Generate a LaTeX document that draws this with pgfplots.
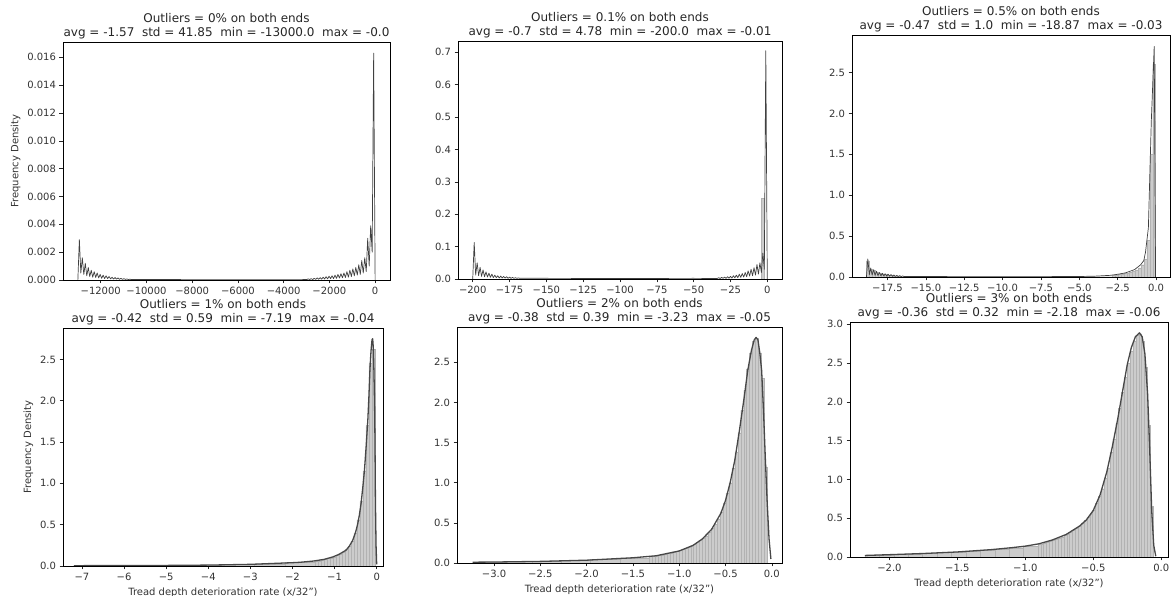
\documentclass[border=0pt]{standalone}
\usepackage{pgfplots}
\pgfplotsset{compat=1.18}
\usepackage{fontspec}
\setmainfont{DejaVu Sans}

\pgfplotsset{
  panel/.style={scale only axis, anchor=south west, ymin=0,
    xtick pos=left, ytick pos=left, tick align=outside,
    major tick length=3.5pt, tick style={black!85, line width=0.6pt},
    axis line style={line width=0.8pt, black},
    scaled ticks=false,
    tick label style={font=\fontsize{10}{11}\selectfont, text=black!80},
    label style={font=\fontsize{10}{12}\selectfont, text=black!80},
    title style={font=\fontsize{12}{13.5}\selectfont, align=center, inner sep=0pt,
      at={(0.5,1)}, anchor=south, yshift=-3pt, text=black!85},
  },
  hist/.style={ybar interval, fill=black!20, draw=black!30, line width=0.2pt},
  kde/.style={draw=black!72, line width=1.3pt, mark=none, line join=round},
  comb/.style={draw=black!75, line width=0.7pt, mark=none, line join=round},
}

\begin{document}
\begin{tikzpicture}
\useasboundingbox (0,0) rectangle (1175pt,596pt);

% ---------- Panel 1 ----------
\begin{axis}[panel, at={(63pt,316pt)}, width=327pt, height=238pt,
  xmin=-13650, xmax=650, ymax=0.0171,
  xtick={-12000,-10000,-8000,-6000,-4000,-2000,0},
  xticklabels={−12000,−10000,−8000,−6000,−4000,−2000,0},
  ytick={0,0.002,0.004,0.006,0.008,0.010,0.012,0.014,0.016},
  yticklabels={0.000,0.002,0.004,0.006,0.008,0.010,0.012,0.014,0.016},
  ylabel={Frequency Density},
  title={Outliers = 0\% on both ends\\avg = -1.57~~std = 41.85~~min = -13000.0~~max = -0.0}]
\addplot[comb] coordinates {
(-13000,0) (-12935,0.0029) (-12870,0.0005) (-12805,0.0016) (-12740,0.0004) (-12675,0.0012)
(-12610,0.0003) (-12545,0.0009) (-12480,0.00025) (-12415,0.0007) (-12350,0.0002) (-12285,0.0006)
(-12220,0.00018) (-12155,0.0005) (-12090,0.00015) (-12025,0.0004) (-11960,0.00012) (-11895,0.00035)
(-11830,0.0001) (-11765,0.0003) (-11700,0.0001) (-11635,0.00025) (-11570,0.00008) (-11505,0.0002)
(-11440,0.00007) (-11375,0.00018) (-11310,0.00006) (-11245,0.00015) (-11180,0.00005) (-11115,0.00012)
(-11050,0.00004) (-10985,0.0001) (-10920,0.00004) (-10855,0.00008) (-10790,0.00003) (-10725,0.00006)
(-10660,0.00003) (-9000,0.00003) (-6000,0.00002) (-4000,0.00002) (-3000,0.00003)
(-2990,0.00003) (-2925,0.00008) (-2860,0.00003) (-2795,0.0001) (-2730,0.00003) (-2665,0.00012)
(-2600,0.00004) (-2535,0.00015) (-2470,0.00005) (-2405,0.00017) (-2340,0.00006) (-2275,0.0002)
(-2210,0.00007) (-2145,0.00024) (-2080,0.00008) (-2015,0.00027) (-1950,0.0001) (-1885,0.0003)
(-1820,0.0001) (-1755,0.00035) (-1690,0.00012) (-1625,0.0004) (-1560,0.00014) (-1495,0.00045)
(-1430,0.00016) (-1365,0.0005) (-1300,0.00018) (-1235,0.0006) (-1170,0.0002) (-1105,0.0007)
(-1040,0.00025) (-975,0.0008) (-910,0.0003) (-845,0.0009) (-780,0.00035) (-715,0.0011)
(-650,0.0004) (-585,0.0014) (-520,0.0005) (-455,0.0016) (-390,0.0006) (-325,0.0030)
(-260,0.0010) (-195,0.0039) (-130,0.0020) (-65,0.0163) (0,0)
};
\end{axis}

% ---------- Panel 2 ----------
\begin{axis}[panel, at={(458pt,317pt)}, width=324pt, height=238pt,
  xmin=-210, xmax=10, ymax=0.735,
  xtick={-200,-175,-150,-125,-100,-75,-50,-25,0},
  xticklabels={−200,−175,−150,−125,−100,−75,−50,−25,0},
  ytick={0,0.1,0.2,0.3,0.4,0.5,0.6,0.7},
  yticklabels={0.0,0.1,0.2,0.3,0.4,0.5,0.6,0.7},
  title={Outliers = 0.1\% on both ends\\avg = -0.7~~std = 4.78~~min = -200.0~~max = -0.01}]
\addplot[hist] coordinates {(-4,0.25) (-2,0)};
\addplot[comb] coordinates {
(-200,0) (-199,0.113) (-198,0.012) (-197,0.05) (-196,0.01) (-195,0.036) (-194,0.008) (-193,0.028)
(-192,0.007) (-191,0.022) (-190,0.006) (-189,0.018) (-188,0.005) (-187,0.015) (-186,0.004) (-185,0.012)
(-184,0.004) (-183,0.01) (-182,0.003) (-181,0.009) (-180,0.003) (-179,0.008) (-178,0.003) (-177,0.007)
(-176,0.002) (-175,0.006) (-174,0.002) (-173,0.005) (-172,0.002) (-171,0.004) (-170,0.002) (-169,0.0035)
(-168,0.002) (-150,0.002) (-100,0.0015) (-50,0.002) (-34,0.0015)
(-33,0.004) (-32,0.0015) (-31,0.005) (-30,0.002) (-29,0.006) (-28,0.002) (-27,0.007) (-26,0.0025)
(-25,0.008) (-24,0.003) (-23,0.01) (-22,0.0035) (-21,0.012) (-20,0.004) (-19,0.015) (-18,0.005)
(-17,0.017) (-16,0.006) (-15,0.02) (-14,0.007) (-13,0.025) (-12,0.009) (-11,0.03) (-10,0.01)
(-9,0.035) (-8,0.012) (-7,0.045) (-6,0.015) (-5,0.05) (-4,0.02) (-3,0.08) (-2,0.03) (-1,0.705) (0,0)
};
\end{axis}

% ---------- Panel 3 ----------
\begin{axis}[panel, at={(852pt,319pt)}, width=318pt, height=242pt,
  xmin=-19.81, xmax=0.91, ymax=2.96,
  xtick={-17.5,-15,-12.5,-10,-7.5,-5,-2.5,0},
  xticklabels={−17.5,−15.0,−12.5,−10.0,−7.5,−5.0,−2.5,0.0},
  ytick={0,0.5,1,1.5,2,2.5},
  yticklabels={0.0,0.5,1.0,1.5,2.0,2.5},
  title={Outliers = 0.5\% on both ends\\avg = -0.47~~std = 1.0~~min = -18.87~~max = -0.03}]
\addplot[hist] coordinates {
(-18.87,0.2) (-18.682,0.1) (-18.493,0.08) (-18.305,0.06) (-18.116,0.05) (-17.928,0.04)
(-17.74,0.03) (-17.551,0.025) (-17.363,0.02) (-17.174,0.015) (-16.986,0.012) (-16.798,0.01)
(-16.609,0.004) (-2.856,0.025) (-2.668,0.028) (-2.479,0.032) (-2.291,0.037) (-2.102,0.043)
(-1.914,0.05) (-1.726,0.06) (-1.537,0.072) (-1.349,0.088) (-1.160,0.11) (-0.972,0.15)
(-0.784,0.22) (-0.595,0.45) (-0.407,1.5) (-0.218,2.6) (-0.03,0)
};
\addplot[comb] coordinates {
(-18.87,0) (-18.78,0.22) (-18.68,0.03) (-18.59,0.11) (-18.50,0.025) (-18.40,0.09) (-18.31,0.02)
(-18.21,0.07) (-18.12,0.018) (-18.02,0.055) (-17.93,0.015) (-17.83,0.045) (-17.74,0.012) (-17.65,0.04)
(-17.55,0.01) (-17.46,0.035) (-17.36,0.01) (-17.27,0.03) (-17.17,0.008) (-17.08,0.025) (-16.99,0.007)
(-16.89,0.02) (-16.80,0.006) (-16.70,0.017) (-16.61,0.005) (-16.51,0.014) (-16.42,0.005) (-16.0,0.006)
(-12,0.004) (-8,0.004) (-5,0.006) (-4,0.01) (-3.5,0.015) (-3.0,0.02) (-2.6,0.03) (-2.3,0.04)
(-2.0,0.05) (-1.7,0.07) (-1.4,0.09) (-1.2,0.12) (-1.0,0.15) (-0.8,0.2) (-0.69,0.3) (-0.5,0.6)
(-0.31,1.9) (-0.12,2.82) (-0.04,0.3) (-0.03,0)
};
\end{axis}

% ---------- Panel 4 ----------
\begin{axis}[panel, at={(63pt,30pt)}, width=320pt, height=238pt,
  xmin=-7.45, xmax=0.15, ymax=2.88,
  xtick={-7,-6,-5,-4,-3,-2,-1,0},
  xticklabels={−7,−6,−5,−4,−3,−2,−1,0},
  ytick={0,0.5,1,1.5,2,2.5},
  yticklabels={0.0,0.5,1.0,1.5,2.0,2.5},
  ylabel={Frequency Density},
  xlabel={Tread depth deterioration rate (x/32")},
  title={Outliers = 1\% on both ends\\avg = -0.42~~std = 0.59~~min = -7.19~~max = -0.04}]
\addplot[hist] coordinates {
(-7.19,0.005) (-6.475,0.006) (-5.76,0.007) (-5.045,0.009) (-4.33,0.012) (-3.615,0.018)
(-2.9,0.028) (-2.185,0.045) (-1.47,0.06) (-1.3985,0.065) (-1.327,0.07) (-1.2555,0.08)
(-1.184,0.09) (-1.1125,0.1) (-1.041,0.11) (-0.9695,0.13) (-0.898,0.15) (-0.8265,0.17)
(-0.755,0.2) (-0.6835,0.24) (-0.612,0.3) (-0.5405,0.4) (-0.469,0.56) (-0.3975,0.78)
(-0.326,1.15) (-0.2545,1.7) (-0.183,2.45) (-0.1115,2.62) (-0.04,0)
};
\addplot[kde] coordinates {
(-7.19,0.004) (-6,0.005) (-5,0.007) (-4,0.011) (-3,0.02) (-2.5,0.03) (-2,0.04) (-1.82,0.045)
(-1.5,0.06) (-1.25,0.08) (-1.04,0.11) (-0.9,0.14) (-0.73,0.19) (-0.65,0.24) (-0.57,0.31)
(-0.5,0.41) (-0.45,0.51) (-0.41,0.62) (-0.37,0.76) (-0.33,0.95) (-0.29,1.16) (-0.25,1.45)
(-0.21,1.77) (-0.185,2.05) (-0.16,2.38) (-0.135,2.6) (-0.11,2.74) (-0.095,2.75) (-0.08,2.64)
(-0.065,2.35) (-0.05,1.95) (-0.04,1.5) (-0.03,0.8) (-0.015,0.25) (0,0.02)
};
\end{axis}

% ---------- Panel 5 ----------
\begin{axis}[panel, at={(457pt,33pt)}, width=325pt, height=236pt,
  xmin=-3.40, xmax=0.11, ymax=2.94,
  xtick={-3,-2.5,-2,-1.5,-1,-0.5,0},
  xticklabels={−3.0,−2.5,−2.0,−1.5,−1.0,−0.5,0.0},
  ytick={0,0.5,1,1.5,2,2.5},
  yticklabels={0.0,0.5,1.0,1.5,2.0,2.5},
  xlabel={Tread depth deterioration rate (x/32")},
  title={Outliers = 2\% on both ends\\avg = -0.38~~std = 0.39~~min = -3.23~~max = -0.05}]
\addplot[hist] coordinates {
(-3.23,0.012) (-2.912,0.018) (-2.594,0.024) (-2.276,0.032) (-1.958,0.045) (-1.640,0.065)
(-1.322,0.082) (-1.2902,0.087) (-1.2584,0.092) (-1.2266,0.098) (-1.1948,0.104) (-1.163,0.11)
(-1.1312,0.118) (-1.0994,0.125) (-1.0676,0.135) (-1.0358,0.145) (-1.004,0.155) (-0.9722,0.17)
(-0.9404,0.185) (-0.9086,0.2) (-0.8768,0.215) (-0.845,0.235) (-0.8132,0.255) (-0.7814,0.28)
(-0.7496,0.31) (-0.7178,0.34) (-0.686,0.38) (-0.6542,0.43) (-0.6224,0.48) (-0.5906,0.55)
(-0.5588,0.64) (-0.527,0.75) (-0.4952,0.87) (-0.4634,1.0) (-0.4316,1.18) (-0.3998,1.38)
(-0.368,1.62) (-0.3362,1.9) (-0.3044,2.15) (-0.2726,2.42) (-0.2408,2.62) (-0.209,2.76)
(-0.1772,2.8) (-0.1454,2.62) (-0.1136,2.3) (-0.0818,1.2) (-0.05,0)
};
\addplot[kde] coordinates {
(-3.23,0.01) (-3.0,0.012) (-2.5,0.02) (-2.0,0.035) (-1.5,0.065) (-1.25,0.09) (-1.0,0.15)
(-0.85,0.22) (-0.75,0.3) (-0.65,0.42) (-0.55,0.62) (-0.5,0.78) (-0.45,1.0) (-0.4,1.28)
(-0.35,1.65) (-0.3,2.05) (-0.26,2.4) (-0.22,2.65) (-0.19,2.78) (-0.17,2.81) (-0.15,2.78)
(-0.13,2.62) (-0.11,2.4) (-0.09,1.9) (-0.07,1.3) (-0.05,0.75) (-0.03,0.3) (-0.01,0.05)
};
\end{axis}

% ---------- Panel 6 ----------
\begin{axis}[panel, at={(850pt,39pt)}, width=318pt, height=235pt,
  xmin=-2.29, xmax=0.05, ymax=3.03,
  xtick={-2,-1.5,-1,-0.5,0},
  xticklabels={−2.0,−1.5,−1.0,−0.5,0.0},
  ytick={0,0.5,1,1.5,2,2.5,3},
  yticklabels={0.0,0.5,1.0,1.5,2.0,2.5,3.0},
  xlabel={Tread depth deterioration rate (x/32")},
  title={Outliers = 3\% on both ends\\avg = -0.36~~std = 0.32~~min = -2.18~~max = -0.06}]
\addplot[hist] coordinates {
(-2.18,0.025) (-2.074,0.03) (-1.968,0.035) (-1.862,0.042) (-1.756,0.05) (-1.65,0.058)
(-1.544,0.066) (-1.438,0.076) (-1.332,0.088) (-1.226,0.1) (-1.12,0.12) (-1.014,0.14)
(-0.908,0.16) (-0.8868,0.17) (-0.8656,0.18) (-0.8444,0.19) (-0.8232,0.2) (-0.802,0.215)
(-0.7808,0.23) (-0.7596,0.245) (-0.7384,0.26) (-0.7172,0.28) (-0.696,0.3) (-0.6748,0.32)
(-0.6536,0.345) (-0.6324,0.37) (-0.6112,0.4) (-0.59,0.44) (-0.5688,0.47) (-0.5476,0.51)
(-0.5264,0.55) (-0.5052,0.6) (-0.484,0.69) (-0.4628,0.78) (-0.4416,0.88) (-0.4204,1.02)
(-0.3992,1.15) (-0.378,1.35) (-0.3568,1.52) (-0.3356,1.72) (-0.3144,1.92) (-0.2932,2.12)
(-0.272,2.32) (-0.2508,2.5) (-0.2296,2.65) (-0.2084,2.78) (-0.1872,2.86) (-0.166,2.88)
(-0.1448,2.78) (-0.1236,2.45) (-0.1024,1.7) (-0.0812,0.65) (-0.06,0)
};
\addplot[kde] coordinates {
(-2.18,0.02) (-2.0,0.03) (-1.75,0.045) (-1.5,0.065) (-1.25,0.095) (-1.1,0.12) (-1.0,0.14)
(-0.9,0.17) (-0.8,0.22) (-0.7,0.29) (-0.6,0.4) (-0.55,0.48) (-0.5,0.6) (-0.45,0.8) (-0.4,1.1)
(-0.36,1.42) (-0.32,1.78) (-0.28,2.18) (-0.25,2.48) (-0.22,2.7) (-0.19,2.84) (-0.16,2.89)
(-0.14,2.84) (-0.12,2.62) (-0.1,2.1) (-0.085,1.4) (-0.07,0.6) (-0.055,0.15) (-0.04,0.01)
};
\end{axis}
\end{tikzpicture}
\end{document}
